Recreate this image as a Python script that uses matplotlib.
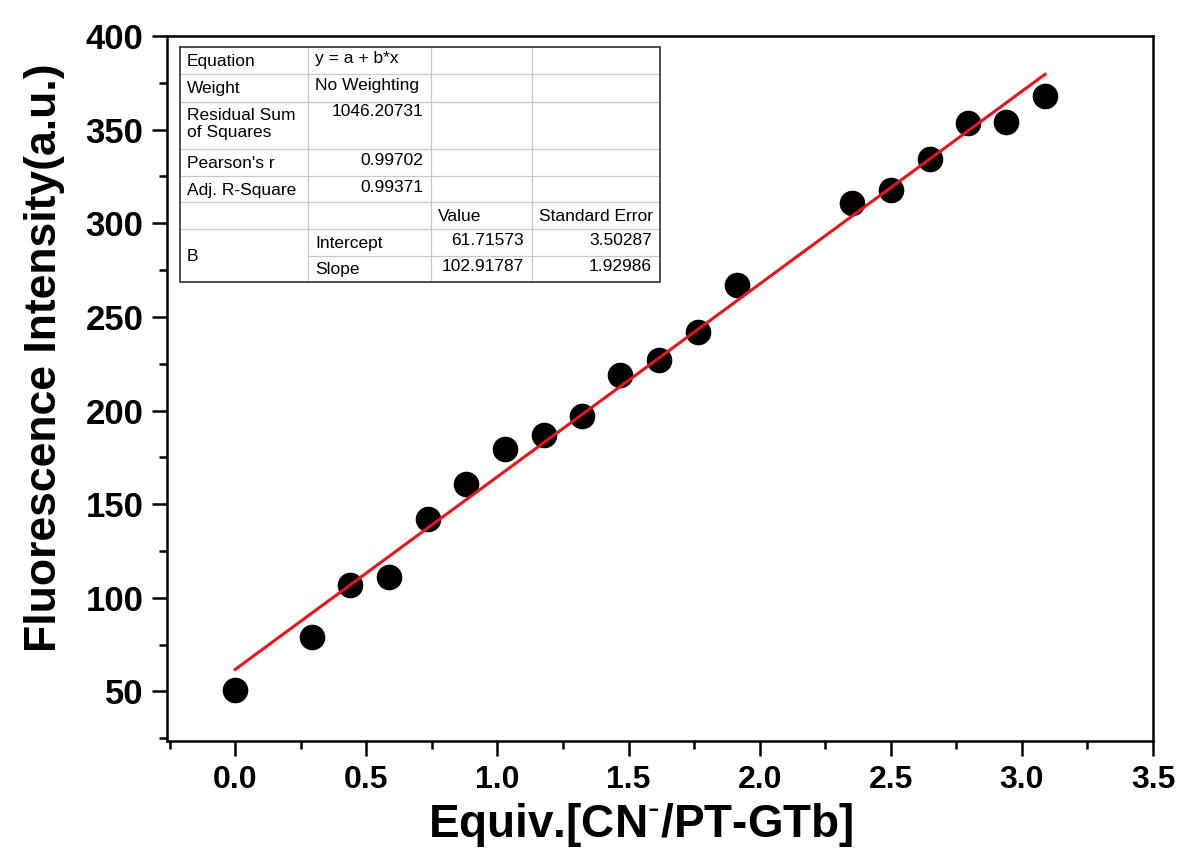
import matplotlib
matplotlib.use("Agg")
import matplotlib.pyplot as plt
from matplotlib import font_manager as fm
import numpy as np

# ---------------- data ----------------
equiv = [0.0, 0.293, 0.439, 0.587, 0.735, 0.880, 1.028, 1.176, 1.322, 1.469,
         1.618, 1.766, 1.915, 2.352, 2.500, 2.648, 2.794, 2.941, 3.088]
intensity = [51.0, 79.2, 106.9, 111.2, 141.9, 160.7, 179.4, 187.1, 197.2, 219.0,
             226.9, 241.9, 267.0, 310.7, 318.0, 334.5, 353.6, 354.3, 367.8]
fit_intercept = 61.71573
fit_slope = 102.91787

x_ticks = [0.0, 0.5, 1.0, 1.5, 2.0, 2.5, 3.0, 3.5]
y_ticks = [50, 100, 150, 200, 250, 300, 350, 400]

table_rows = [
    ["Equation", "y = a + b*x", "", ""],
    ["Weight", "No Weighting", "", ""],
    ["Residual Sum\nof Squares", "1046.20731", "", ""],
    ["Pearson's r", "0.99702", "", ""],
    ["Adj. R-Square", "0.99371", "", ""],
    ["", "", "Value", "Standard Error"],
    ["B", "Intercept", "61.71573", "3.50287"],
    ["", "Slope", "102.91787", "1.92986"],
]

# ---------------- fonts ----------------
names = {f.name for f in fm.fontManager.ttflist}
narrow = "Liberation Sans Narrow" if "Liberation Sans Narrow" in names else "Liberation Sans"
regular = "Liberation Sans"

W, H = 1182, 852
fig = plt.figure(figsize=(W / 100, H / 100), dpi=100)
L, R, B, T = 167, 1153, 741, 36
ax = fig.add_axes([L / W, 1 - B / H, (R - L) / W, (B - T) / H])

ax.scatter(equiv, intensity, s=340, color="black", zorder=3, linewidths=0)
xf = np.array([equiv[0], equiv[-1]])
ax.plot(xf, fit_intercept + fit_slope * xf, color="#e8141a", lw=2.2, zorder=4)

ax.set_xlim(-0.26, 3.5)
ax.set_ylim(23.5, 400)
ax.set_xticks(x_ticks)
ax.set_xticklabels([f"{v:.1f}" for v in x_ticks])
ax.set_yticks(y_ticks)
ax.set_xticks(np.arange(-0.25, 3.5, 0.5), minor=True)
ax.set_yticks(np.arange(25, 400, 50), minor=True)

for s in ax.spines.values():
    s.set_linewidth(1.8)
ax.tick_params(axis="both", which="major", direction="out", length=11, width=1.8)
ax.tick_params(axis="both", which="minor", direction="out", length=6, width=1.8)
ax.tick_params(axis="x", pad=6)
ax.tick_params(axis="y", pad=6)
for lab in ax.get_xticklabels():
    lab.set_fontfamily(narrow)
    lab.set_fontweight("bold")
    lab.set_fontsize(23)
for lab in ax.get_yticklabels():
    lab.set_fontfamily(regular)
    lab.set_fontweight("bold")
    lab.set_fontsize(25)

plt.rcParams["mathtext.fontset"] = "custom"
plt.rcParams["mathtext.rm"] = f"{narrow}:bold"
plt.rcParams["mathtext.it"] = f"{narrow}:bold"
plt.rcParams["mathtext.bf"] = f"{narrow}:bold"

ax.set_xlabel(r"Equiv.[CN$^{\text{-}}$/PT-GTb]", fontfamily=narrow, fontweight="bold",
              fontsize=33, labelpad=2)
ax.xaxis.set_label_coords(0.48, -0.085)
ax.set_ylabel("Fluorescence Intensity(a.u.)", fontfamily=narrow, fontweight="bold",
              fontsize=32, labelpad=10)
ax.yaxis.set_label_coords(-0.1035, 0.543)

# ---------------- table ----------------
tx0, tx1, ty0, ty1 = 180, 660, 47, 282
tab = fig.add_axes([tx0 / W, 1 - ty1 / H, (tx1 - tx0) / W, (ty1 - ty0) / H])
tab.set_xlim(0, tx1 - tx0)
tab.set_ylim(ty1 - ty0, 0)
tab.axis("off")
tab.patch.set_visible(False)
col_edges = [0, 128, 251, 352, 480]
row_edges = [0, 27, 54.5, 102, 129, 155, 182, 208.5, 235]
grid_c = "#c8c8c8"
for i, y in enumerate(row_edges[1:-1], start=1):
    x_start = col_edges[1] if i == 7 else 0
    tab.plot([x_start, col_edges[-1]], [y, y], color=grid_c, lw=0.9)
for x in col_edges[1:-1]:
    tab.plot([x, x], [0, row_edges[-1]], color=grid_c, lw=0.9)
tab.plot([0, 480, 480, 0, 0], [0, 0, 235, 235, 0], color="#404040", lw=1.3,
         clip_on=False)

fs = 12.5
for r, row in enumerate(table_rows):
    ytop, ybot = row_edges[r], row_edges[r + 1]
    for c, txt in enumerate(row):
        if not txt:
            continue
        xl, xr = col_edges[c], col_edges[c + 1]
        if r == 6 and c == 0:
            tab.text(xl + 7, (row_edges[6] + row_edges[8]) / 2 + 1,
                     txt, fontsize=fs, fontfamily=regular, va="center", ha="left")
            continue
        is_num = txt.replace(".", "").isdigit()
        if r == 2:
            if c == 0:
                tab.text(xl + 7, ytop + 6, txt, fontsize=fs, fontfamily=regular,
                         va="top", ha="left", linespacing=1.2)
            else:
                tab.text(xr - 8, ytop + 3, txt, fontsize=fs, fontfamily=regular,
                         va="top", ha="right")
            continue
        ymid = (ytop + ybot) / 2
        if is_num:
            tab.text(xr - 8, ymid - 2, txt, fontsize=fs, fontfamily=regular,
                     va="center", ha="right")
        elif c == 1 and r < 2:
            tab.text(xl + 7, ymid - 2, txt, fontsize=fs, fontfamily=regular,
                     va="center", ha="left")
        else:
            tab.text(xl + 7, ymid + 1, txt, fontsize=fs, fontfamily=regular,
                     va="center", ha="left")

fig.savefig("out.png", dpi=100, facecolor="white")
